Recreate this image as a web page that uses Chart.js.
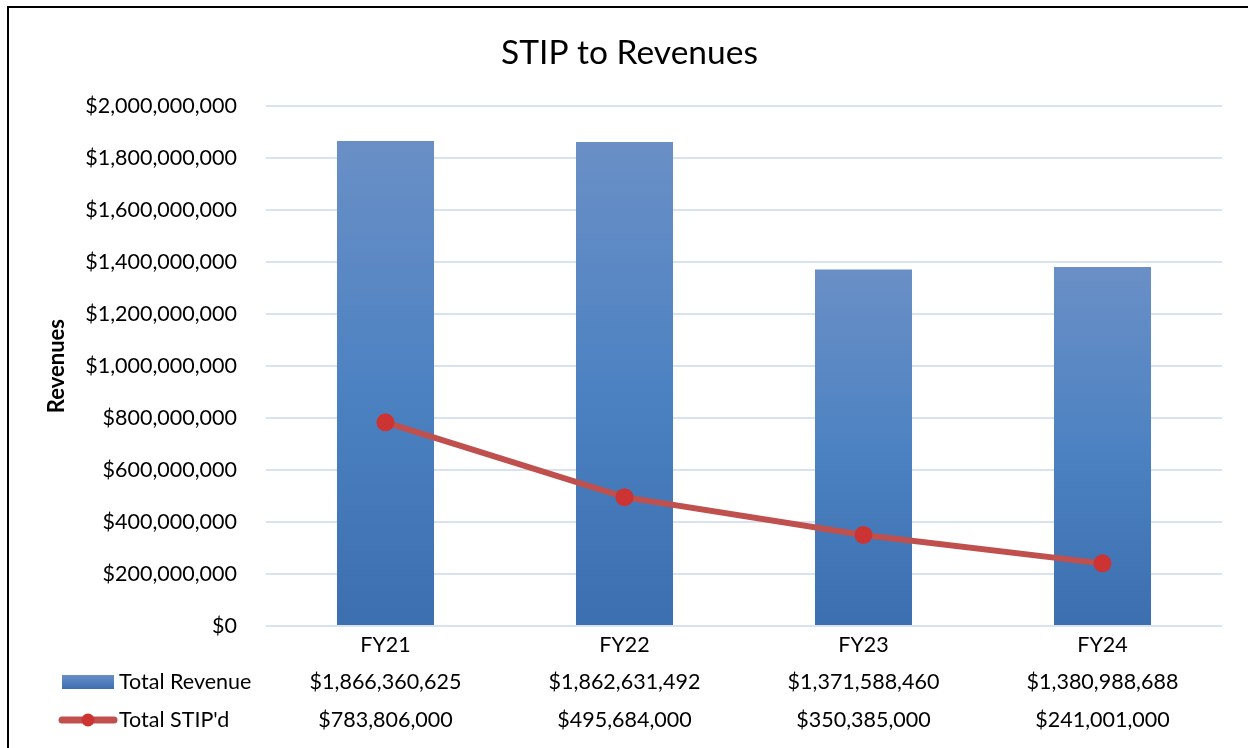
<!DOCTYPE html>
<html>
<head>
<meta charset="utf-8">
<script src="https://cdn.jsdelivr.net/npm/chart.js@4"></script>
<style>
  html, body { margin: 0; padding: 0; background: #fff; overflow: hidden; }
  #wrap { position: relative; width: 1248px; height: 748px; }
  #frame { position: absolute; left: 7px; top: 6px; width: 1300px; height: 800px; border: 2px solid #000; box-sizing: border-box; pointer-events: none; }
  canvas { position: absolute; left: 0; top: 0; }
</style>
</head>
<body>
<div id="wrap">
  <canvas id="chart" width="1248" height="748"></canvas>
  <div id="frame"></div>
</div>
<script>
const categories = ["FY21", "FY22", "FY23", "FY24"];
const totalRevenue = [1866360625, 1862631492, 1371588460, 1380988688];
const totalStipd = [783806000, 495684000, 350385000, 241001000];
const yTicks = [0, 200000000, 400000000, 600000000, 800000000, 1000000000, 1200000000, 1400000000, 1600000000, 1800000000, 2000000000];

const money = v => "$" + Number(v).toLocaleString("en-US");
const FONT = "Lato, 'Open Sans', sans-serif";

// each bar gets its own top-to-bottom gradient, like the Excel fill
function barFill(context) {
  const chart = context.chart;
  const y = chart.scales.y;
  if (!chart.chartArea || !y) return "#4F81BD";
  const v = context.raw;
  const top = y.getPixelForValue(v);
  const bottom = y.getPixelForValue(0);
  const g = chart.ctx.createLinearGradient(0, top, 0, bottom);
  g.addColorStop(0, "#6A8FC6");
  g.addColorStop(0.5, "#4D82C2");
  g.addColorStop(1, "#3B6FB0");
  return g;
}

// data table under the axis, lined up on the category scale
const dataTable = {
  id: "dataTable",
  afterDraw(chart) {
    const ctx = chart.ctx;
    const x = chart.scales.x;
    const row1 = 682, row2 = 720;
    ctx.save();
    ctx.font = "21.5px " + FONT;
    ctx.fillStyle = "#000";
    ctx.textBaseline = "middle";

    // legend keys
    const g = ctx.createLinearGradient(0, 675, 0, 689);
    g.addColorStop(0, "#6A8FC6");
    g.addColorStop(1, "#3B6FB0");
    ctx.fillStyle = g;
    ctx.fillRect(62, 675, 52, 14);

    ctx.strokeStyle = "#C0504D";
    ctx.lineWidth = 7;
    ctx.lineCap = "round";
    ctx.beginPath();
    ctx.moveTo(62, row2);
    ctx.lineTo(114, row2);
    ctx.stroke();
    ctx.fillStyle = "#CC3333";
    ctx.beginPath();
    ctx.arc(88, row2, 6.5, 0, Math.PI * 2);
    ctx.fill();

    ctx.fillStyle = "#000";
    ctx.textAlign = "left";
    ctx.fillText("Total Revenue", 119, row1);
    ctx.fillText("Total STIP'd", 119, row2);

    ctx.textAlign = "center";
    categories.forEach((c, i) => {
      const px = x.getPixelForValue(i);
      ctx.fillText(money(totalRevenue[i]), px, row1);
      ctx.fillText(money(totalStipd[i]), px, row2);
    });
    ctx.restore();
  }
};

function draw() {
  Chart.defaults.font.family = FONT;
  Chart.defaults.color = "#000";

  new Chart(document.getElementById("chart"), {
    data: {
      labels: categories,
      datasets: [
        {
          type: "line",
          label: "Total STIP'd",
          data: totalStipd,
          borderColor: "#C0504D",
          borderWidth: 6,
          pointRadius: 9,
          pointHoverRadius: 9,
          pointBackgroundColor: "#CC3333",
          pointBorderColor: "#CC3333",
          pointBorderWidth: 0,
          tension: 0,
          order: 0
        },
        {
          type: "bar",
          label: "Total Revenue",
          data: totalRevenue,
          backgroundColor: barFill,
          categoryPercentage: 1,
          barPercentage: 0.406,
          order: 1
        }
      ]
    },
    options: {
      responsive: false,
      animation: false,
      layout: { padding: { left: 11, right: 0, top: 0, bottom: 0 } },
      plugins: {
        legend: { display: false },
        tooltip: { enabled: false },
        title: {
          display: true,
          text: "STIP to Revenues",
          color: "#000",
          font: { size: 33.5, weight: "normal" },
          padding: { top: 33, bottom: 33 }
        }
      },
      scales: {
        x: {
          grid: { display: false, drawTicks: false },
          border: { display: false },
          ticks: { font: { size: 21.5 }, padding: 6 },
          afterFit(scale) { scale.height = 122; }
        },
        y: {
          min: 0,
          max: 2000000000,
          afterBuildTicks(scale) { scale.ticks = yTicks.map(v => ({ value: v })); },
          grid: { color: "#D9E2F2", lineWidth: 2, drawTicks: false },
          border: { display: false },
          ticks: { font: { size: 21.5 }, padding: 29, callback: v => money(v) },
          title: {
            display: true,
            text: "Revenues",
            font: { size: 22, weight: "bold" },
            padding: { top: 33, bottom: 0 }
          },
          afterFit(scale) { scale.width = 255; }
        },
        // empty right-hand box so the plot stops short of the edge
        yRight: {
          position: "right",
          display: true,
          grid: { display: false, drawTicks: false },
          border: { display: false },
          ticks: { display: false },
          afterFit(scale) { scale.width = 26; }
        }
      }
    },
    plugins: [dataTable]
  });
}

document.fonts.load("21px Lato").then(draw, draw);
</script>
</body>
</html>
